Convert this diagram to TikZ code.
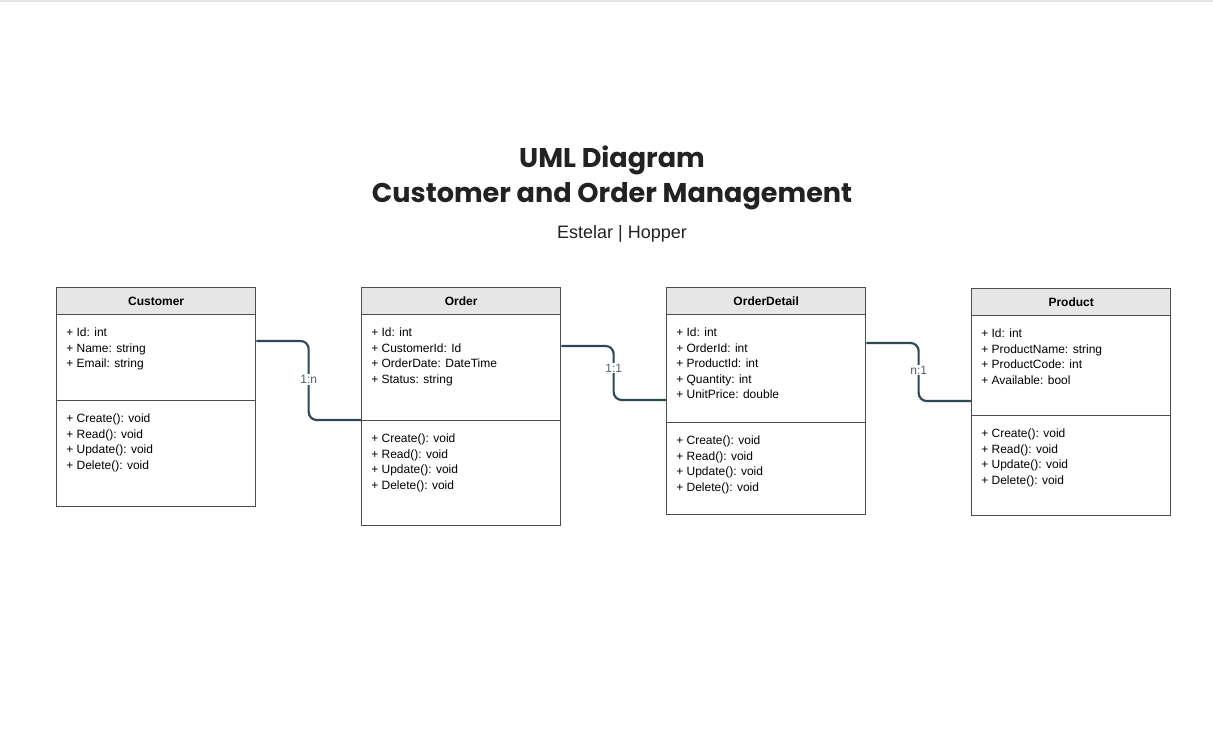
\documentclass[tikz,border=0pt]{standalone}
\usepackage{fontspec}
\setmainfont{Liberation Sans}
\newfontfamily\titlefont{Poppins}
\usetikzlibrary{calc}
\definecolor{hdrgray}{HTML}{E6E6E6}
\definecolor{boxline}{HTML}{4D4D4D}
\definecolor{connclr}{HTML}{2F4858}
\definecolor{titleclr}{HTML}{222222}
\tikzset{
  comp/.style={draw=boxline, line width=1pt, rectangle, inner sep=0pt, anchor=north west, minimum width=149.25pt},
  hdr/.style={comp, fill=hdrgray, minimum height=20.25pt, font=\fontsize{9}{11}\selectfont\bfseries},
  members/.style={anchor=north west, inner sep=0pt, align=left, font=\fontsize{9}{11.6}\selectfont, text=black},
  conn/.style={draw=connclr, line width=1.6pt, rounded corners=6pt},
  lbl/.style={fill=white, inner sep=1pt, text=connclr!85!white, font=\fontsize{9}{11}\selectfont},
  ttl/.style={font=\titlefont\bfseries\fontsize{20.3}{24}\selectfont, text=titleclr}
}
\begin{document}
\begin{tikzpicture}[x=0.75pt,y=-0.75pt]
\useasboundingbox (0,0) rectangle (1213,733);
\fill[white] (0,0) rectangle (1213,733);
\fill[black!10] (0,0) rectangle (1213,1.5);

% titles
\node[ttl] (t1) at (612,160) {UML Diagram};
\node[ttl] (t2) at (612,196) {Customer and Order Management};
\node[font=\fontsize{13.5}{16}\selectfont, text=titleclr] (t3) at (622,234) {Estelar | Hopper};

% Customer
\node[hdr] (custH) at (56,287) {Customer};
\node[comp, minimum height=64.5pt] (custA) at (56,314) {};
\node[comp, minimum height=79.5pt] (custM) at (56,400) {};
\node[members] (custAt) at ($(custA.north west)+(10,14)$) {+ Id: int\\+ Name: string\\+ Email: string};
\node[members] (custMt) at ($(custM.north west)+(10,14)$) {+ Create(): void\\+ Read(): void\\+ Update(): void\\+ Delete(): void};

% Order
\node[hdr] (ordH) at (361,287) {Order};
\node[comp, minimum height=79.5pt] (ordA) at (361,314) {};
\node[comp, minimum height=78.75pt] (ordM) at (361,420) {};
\node[members] (ordAt) at ($(ordA.north west)+(10,14)$) {+ Id: int\\+ CustomerId: Id\\+ OrderDate: DateTime\\+ Status: string};
\node[members] (ordMt) at ($(ordM.north west)+(10,14)$) {+ Create(): void\\+ Read(): void\\+ Update(): void\\+ Delete(): void};

% OrderDetail
\node[hdr] (odH) at (666,287) {OrderDetail};
\node[comp, minimum height=81pt] (odA) at (666,314) {};
\node[comp, minimum height=69pt] (odM) at (666,422) {};
\node[members] (odAt) at ($(odA.north west)+(10,14)$) {+ Id: int\\+ OrderId: int\\+ ProductId: int\\+ Quantity: int\\+ UnitPrice: double};
\node[members] (odMt) at ($(odM.north west)+(10,14)$) {+ Create(): void\\+ Read(): void\\+ Update(): void\\+ Delete(): void};

% Product
\node[hdr] (prH) at (971,288) {Product};
\node[comp, minimum height=75pt] (prA) at (971,315) {};
\node[comp, minimum height=75pt] (prM) at (971,415) {};
\node[members] (prAt) at ($(prA.north west)+(10,14)$) {+ Id: int\\+ ProductName: string\\+ ProductCode: int\\+ Available: bool};
\node[members] (prMt) at ($(prM.north west)+(10,14)$) {+ Create(): void\\+ Read(): void\\+ Update(): void\\+ Delete(): void};

% connectors
\coordinate (c1s) at ($(custA.north east)+(0,27)$);
\coordinate (c1e) at (ordM.north west);
\draw[conn] (c1s) -| ($(c1s)!0.5!(c1e)$) |- (c1e);
\node[lbl] (l1) at ($(c1s)!0.5!(c1e)+(0,-1)$) {1:n};

\coordinate (c2s) at ($(ordA.north east)+(0,32)$);
\coordinate (c2e) at ($(odA.north west)+(0,86)$);
\draw[conn] (c2s) -| ($(c2s)!0.5!(c2e)$) |- (c2e);
\node[lbl] (l2) at ($(c2s)!0.5!(c2e)+(0,-5)$) {1:1};

\coordinate (c3s) at ($(odA.north east)+(0,29)$);
\coordinate (c3e) at ($(prA.north west)+(0,86)$);
\draw[conn] (c3s) -| ($(c3s)!0.5!(c3e)$) |- (c3e);
\node[lbl] (l3) at ($(c3s)!0.5!(c3e)+(0,-2)$) {n:1};
\end{tikzpicture}
\end{document}
